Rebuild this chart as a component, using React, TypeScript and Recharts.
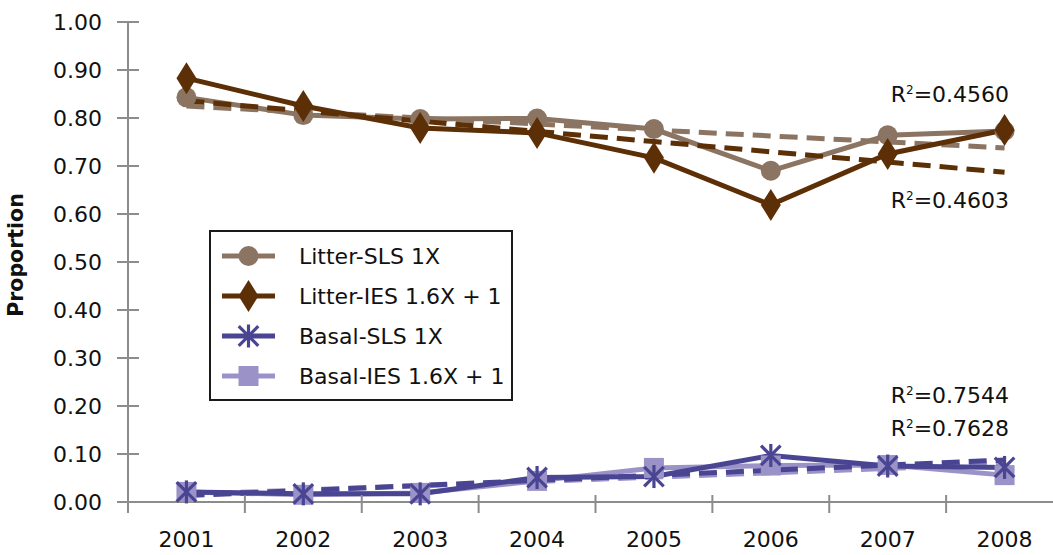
import React from 'react'
import { LineChart, Line, XAxis, YAxis, Legend, ReferenceDot } from 'recharts'

const years = ['2001', '2002', '2003', '2004', '2005', '2006', '2007', '2008']
const litterSls = [0.843, 0.806, 0.798, 0.799, 0.777, 0.690, 0.764, 0.773]
const litterIes = [0.883, 0.825, 0.779, 0.769, 0.717, 0.619, 0.725, 0.775]
const basalSls = [0.021, 0.017, 0.017, 0.051, 0.053, 0.097, 0.075, 0.072]
const basalIes = [0.021, 0.015, 0.019, 0.044, 0.071, 0.076, 0.077, 0.056]
const yTicks = [0, 0.1, 0.2, 0.3, 0.4, 0.5, 0.6, 0.7, 0.8, 0.9, 1]

// R² annotations, anchored next to the 2007 column
const rLabels = [
  { value: '0.4560', at: 0.851 },
  { value: '0.4603', at: 0.629 },
  { value: '0.7544', at: 0.222 },
  { value: '0.7628', at: 0.154 },
]

const FONT = '"DejaVu Sans", sans-serif'
const AXIS = '#8c8c8c'
const C = {
  litterSls: '#8c7462',
  litterIes: '#5c2f06',
  basalSls: '#4a4592',
  basalIes: '#9b93c7',
}

const W = 1063
const H = 555
const LEFT = 128
const BAND = (W - LEFT) / years.length
const DASH = '18 9'

// least squares trend line through a series
function trend(vals: number[]) {
  const n = vals.length
  const mx = (n - 1) / 2
  const my = vals.reduce((a, b) => a + b, 0) / n
  let sxy = 0
  let sxx = 0
  vals.forEach((v, i) => {
    sxy += (i - mx) * (v - my)
    sxx += (i - mx) * (i - mx)
  })
  const b = sxy / sxx
  return vals.map((_, i) => my + b * (i - mx))
}

const litterSlsTrend = trend(litterSls)
const litterIesTrend = trend(litterIes)
const basalSlsTrend = trend(basalSls)
const basalIesTrend = trend(basalIes)

const data = years.map((year, i) => ({
  year,
  litterSls: litterSls[i],
  litterIes: litterIes[i],
  basalSls: basalSls[i],
  basalIes: basalIes[i],
  litterSlsTrend: litterSlsTrend[i],
  litterIesTrend: litterIesTrend[i],
  basalSlsTrend: basalSlsTrend[i],
  basalIesTrend: basalIesTrend[i],
}))

type MarkerType = 'circle' | 'diamond' | 'star' | 'square'

function Marker({ type, cx, cy, color }: { type: MarkerType; cx: number; cy: number; color: string }) {
  if (type === 'circle') return <circle cx={cx} cy={cy} r={10} fill={color} />
  if (type === 'diamond')
    return <polygon points={`${cx},${cy - 16} ${cx + 10},${cy} ${cx},${cy + 16} ${cx - 10},${cy}`} fill={color} />
  if (type === 'square') return <rect x={cx - 10} y={cy - 10} width={20} height={20} fill={color} />
  const s = 11.5
  return (
    <g stroke={color} strokeWidth={3.2}>
      <line x1={cx} y1={cy - s} x2={cx} y2={cy + s} />
      <line x1={cx - s * 0.85} y1={cy - s * 0.85} x2={cx + s * 0.85} y2={cy + s * 0.85} />
      <line x1={cx - s * 0.85} y1={cy + s * 0.85} x2={cx + s * 0.85} y2={cy - s * 0.85} />
    </g>
  )
}

const dotFor = (type: MarkerType, color: string) => (p: any) => (
  <Marker key={`${type}-${p.index}`} type={type} cx={p.cx} cy={p.cy} color={color} />
)

const legendItems: { name: string; color: string; marker: MarkerType }[] = [
  { name: 'Litter-SLS 1X', color: C.litterSls, marker: 'circle' },
  { name: 'Litter-IES 1.6X + 1', color: C.litterIes, marker: 'diamond' },
  { name: 'Basal-SLS 1X', color: C.basalSls, marker: 'star' },
  { name: 'Basal-IES 1.6X + 1', color: C.basalIes, marker: 'square' },
]

function LegendBox() {
  return (
    <div
      style={{
        width: 304,
        height: 171,
        boxSizing: 'border-box',
        border: '2px solid #1a1a1a',
        background: '#fff',
        padding: '4px 0 0 11px',
        fontFamily: FONT,
        fontSize: 22,
        color: '#111',
      }}
    >
      {legendItems.map(it => (
        <div key={it.name} style={{ display: 'flex', alignItems: 'center', height: 40 }}>
          <svg width={53} height={36} style={{ overflow: 'visible' }}>
            <line x1={0} x2={53} y1={18} y2={18} stroke={it.color} strokeWidth={5} />
            <Marker type={it.marker} cx={26.5} cy={18} color={it.color} />
          </svg>
          <span style={{ marginLeft: 24, whiteSpace: 'nowrap' }}>{it.name}</span>
        </div>
      ))}
    </div>
  )
}

function YTick(props: any) {
  const { x, y, payload } = props
  return (
    <g>
      <line x1={x - 11} x2={x + 11} y1={y} y2={y} stroke={AXIS} strokeWidth={2} />
      <text x={x - 26} y={y + 8} textAnchor="end" fontFamily={FONT} fontSize={22} fill="#111">
        {Number(payload.value).toFixed(2)}
      </text>
    </g>
  )
}

function XTick(props: any) {
  const { x, y, payload, index } = props
  return (
    <g>
      <line x1={x - BAND / 2} x2={x - BAND / 2} y1={y - 7} y2={y + 11} stroke={AXIS} strokeWidth={2} />
      {index === years.length - 1 && (
        <line x1={x + BAND / 2} x2={x + BAND / 2} y1={y - 7} y2={y + 11} stroke={AXIS} strokeWidth={2} />
      )}
      <text x={x} y={y + 45} textAnchor="middle" fontFamily={FONT} fontSize={22} fill="#111">
        {payload.value}
      </text>
    </g>
  )
}

function YLabel(props: any) {
  const vb = props.viewBox
  const cy = vb.y + vb.height / 2 - 7
  return (
    <text
      transform={`translate(23, ${cy}) rotate(-90)`}
      textAnchor="middle"
      fontFamily={FONT}
      fontWeight="bold"
      fontSize={20.5}
      fill="#111"
    >
      Proportion
    </text>
  )
}

const rText = (value: string) => (p: any) => (
  <text x={p.cx + 3} y={p.cy + 8} fontFamily={FONT} fontSize={22} fill="#111">
    R
    <tspan fontSize={12} dy={-8}>2</tspan>
    <tspan dy={8}>={value}</tspan>
  </text>
)

export default function App() {
  return (
    <div style={{ position: 'fixed', left: 0, top: 0, width: 1053, height: H, overflow: 'hidden', background: '#fff' }}>
      <LineChart width={W} height={H} data={data} margin={{ top: 22, right: 0, bottom: 0, left: 0 }}>
        <XAxis
          dataKey="year"
          height={53}
          padding={{ left: BAND / 2, right: BAND / 2 }}
          tickSize={0}
          tickMargin={0}
          tickLine={false}
          axisLine={{ stroke: AXIS, strokeWidth: 2 }}
          tick={<XTick />}
          interval={0}
        />
        <YAxis
          domain={[0, 1]}
          ticks={yTicks}
          width={LEFT}
          tickSize={0}
          tickMargin={0}
          tickLine={false}
          axisLine={{ stroke: AXIS, strokeWidth: 2 }}
          tick={<YTick />}
          interval={0}
          label={<YLabel />}
        />
        <Legend
          layout="vertical"
          align="center"
          verticalAlign="middle"
          content={<LegendBox />}
          wrapperStyle={{ left: 209, top: 230, width: 304, height: 171 }}
        />
        <Line dataKey="litterSls" stroke={C.litterSls} strokeWidth={5} dot={dotFor('circle', C.litterSls)} activeDot={false} isAnimationActive={false} />
        <Line dataKey="litterSlsTrend" stroke={C.litterSls} strokeWidth={5} strokeDasharray={DASH} dot={false} activeDot={false} isAnimationActive={false} />
        <Line dataKey="litterIesTrend" stroke={C.litterIes} strokeWidth={5} strokeDasharray={DASH} dot={false} activeDot={false} isAnimationActive={false} />
        <Line dataKey="litterIes" stroke={C.litterIes} strokeWidth={5} dot={dotFor('diamond', C.litterIes)} activeDot={false} isAnimationActive={false} />
        <Line dataKey="basalIes" stroke={C.basalIes} strokeWidth={5} dot={dotFor('square', C.basalIes)} activeDot={false} isAnimationActive={false} />
        <Line dataKey="basalIesTrend" stroke={C.basalIes} strokeWidth={5} strokeDasharray={DASH} dot={false} activeDot={false} isAnimationActive={false} />
        <Line dataKey="basalSlsTrend" stroke={C.basalSls} strokeWidth={5} strokeDasharray={DASH} dot={false} activeDot={false} isAnimationActive={false} />
        <Line dataKey="basalSls" stroke={C.basalSls} strokeWidth={5} dot={dotFor('star', C.basalSls)} activeDot={false} isAnimationActive={false} />
        {rLabels.map(r => (
          <ReferenceDot key={r.value} x="2007" y={r.at} r={1} shape={rText(r.value)} />
        ))}
      </LineChart>
    </div>
  )
}
